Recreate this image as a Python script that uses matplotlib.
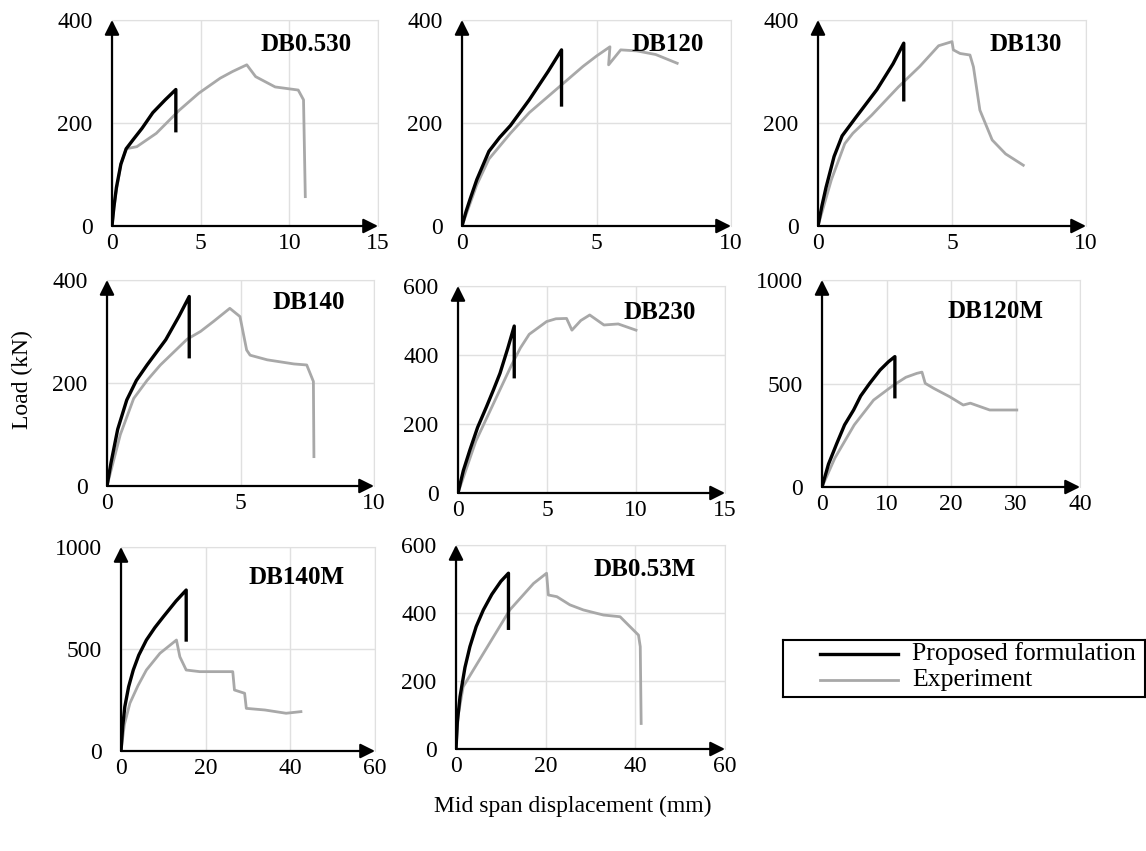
import numpy as np
import matplotlib
matplotlib.use('Agg')
import matplotlib.pyplot as plt

plt.rcParams['font.family'] = ['Liberation Serif', 'DejaVu Serif']

# Panel names, axis limits and ticks
names = ['DB0.530', 'DB120', 'DB130', 'DB140', 'DB230', 'DB120M', 'DB140M', 'DB0.53M']
x_max = [15, 10, 10, 10, 15, 40, 60, 60]
x_step = [5, 5, 5, 5, 5, 10, 20, 20]
y_max = [400, 400, 400, 400, 600, 1000, 1000, 600]
y_step = [200, 200, 200, 200, 200, 500, 500, 200]

# Proposed formulation (black) curves: displacement (mm), load (kN)
prop_x = [
    [0, 0.1, 0.25, 0.5, 0.8, 1.2, 1.7, 2.3, 3.0, 3.6, 3.6],
    [0, 0.15, 0.3, 0.55, 1.0, 1.4, 1.8, 2.5, 3.2, 3.7, 3.7],
    [0, 0.15, 0.3, 0.6, 0.9, 1.4, 2.2, 2.8, 3.2, 3.2],
    [0, 0.15, 0.4, 0.74, 1.1, 1.5, 2.2, 2.7, 3.08, 3.08],
    [0, 0.3, 0.67, 1.1, 1.6, 2.0, 2.36, 2.8, 3.16, 3.16],
    [0, 0.5, 1.0, 2.3, 3.5, 4.9, 6.0, 7.4, 9.0, 10.3, 11.3, 11.3],
    [0, 0.4, 0.9, 1.8, 2.9, 4.2, 6.0, 8.0, 10.0, 13.0, 15.4, 15.4],
    [0, 0.3, 0.9, 2.0, 3.1, 4.5, 6.1, 8.0, 10.0, 11.7, 11.7],
]
prop_y = [
    [0, 35, 75, 120, 150, 168, 190, 220, 245, 265, 185],
    [0, 28, 52, 90, 145, 172, 195, 245, 300, 342, 235],
    [0, 40, 75, 135, 175, 210, 265, 315, 355, 245],
    [0, 45, 110, 167, 205, 235, 284, 330, 368, 251],
    [0, 65, 125, 190, 250, 300, 347, 420, 484, 337],
    [0, 55, 110, 211, 300, 372, 440, 501, 565, 605, 630, 436],
    [0, 120, 217, 315, 397, 470, 544, 605, 658, 735, 789, 544],
    [0, 80, 154, 240, 301, 360, 409, 455, 493, 517, 355],
]

# Experiment (grey) curves
exp_x = [
    [0, 0.2, 0.5, 0.8, 1.4, 2.5, 3.8, 4.9, 6.1, 6.8, 7.6, 8.1, 9.2, 10.5, 10.8, 10.9],
    [0, 0.55, 1.0, 1.8, 2.5, 3.5, 4.5, 5.0, 5.5, 5.45, 5.9, 6.5, 7.2, 8.0],
    [0, 0.5, 1.0, 1.3, 2.0, 3.0, 3.8, 4.5, 5.0, 5.05, 5.3, 5.67, 5.8, 6.04, 6.5, 7.0, 7.66],
    [0, 0.5, 1.0, 1.5, 2.0, 2.5, 3.0, 3.5, 4.0, 4.6, 4.98, 5.23, 5.36, 6.0, 7.0, 7.48, 7.73, 7.75],
    [0, 1.0, 2.0, 3.0, 3.5, 4.0, 4.98, 5.5, 6.1, 6.4, 6.9, 7.4, 8.2, 9.0, 10.0],
    [0, 2.0, 5.0, 8.0, 11.0, 13.0, 14.7, 15.5, 16.0, 17.3, 19.8, 21.9, 23.0, 26.0, 28.0, 30.2],
    [0, 0.8, 2.1, 4.0, 6.0, 9.2, 13.1, 13.9, 15.4, 18.6, 26.4, 26.8, 29.2, 29.6, 34.0, 39.0, 42.5],
    [0, 0.5, 1.6, 6.1, 12.0, 17.3, 20.2, 20.6, 22.5, 25.4, 28.4, 32.9, 36.6, 38.8, 40.7, 41.1, 41.3],
]
exp_y = [
    [0, 60, 120, 150, 154, 180, 225, 258, 287, 300, 313, 290, 270, 264, 245, 57],
    [0, 80, 130, 180, 220, 265, 310, 330, 348, 313, 342, 340, 333, 316],
    [0, 90, 160, 180, 215, 270, 310, 350, 358, 342, 335, 332, 309, 225, 167, 140, 118],
    [0, 100, 170, 205, 235, 260, 285, 300, 320, 345, 329, 264, 254, 245, 237, 235, 203, 57],
    [0, 150, 260, 370, 420, 460, 497, 505, 506, 472, 500, 516, 487, 490, 472],
    [0, 140, 300, 420, 490, 530, 549, 555, 501, 477, 436, 396, 405, 372, 372, 372],
    [0, 130, 234, 320, 397, 479, 544, 462, 397, 389, 389, 299, 283, 209, 201, 185, 193],
    [0, 100, 183, 281, 409, 487, 517, 453, 448, 424, 409, 394, 389, 360, 335, 301, 75],
]

# axes boxes in pixels: x0, x1, y_bottom, y_top
boxes = [(112, 378, 226, 20), (462, 731, 226, 20), (818, 1086, 226, 20),
         (107, 374, 486, 280), (458, 725, 493, 286), (822, 1080, 487, 280),
         (121, 375, 751, 547), (456, 725, 749, 545)]
title_pos = [(0.90, 0.88), (0.90, 0.88), (0.91, 0.88), (0.89, 0.89),
             (0.89, 0.87), (0.86, 0.85), (0.88, 0.85), (0.89, 0.88)]

W, H = 1146, 851
fig = plt.figure(figsize=(W / 100, H / 100), dpi=100)

for i in range(8):
    x0, x1, yb, yt = boxes[i]
    ax = fig.add_axes([x0 / W, 1 - yb / H, (x1 - x0) / W, (yb - yt) / H])
    ax.plot(exp_x[i], exp_y[i], color='#a8a8a8', lw=2, zorder=3)
    ax.plot(prop_x[i], prop_y[i], color='black', lw=2.4, zorder=4)
    ax.set_xlim(0, x_max[i])
    ax.set_ylim(0, y_max[i])
    ax.set_xticks(np.arange(0, x_max[i] + 1, x_step[i]))
    ax.set_yticks(np.arange(0, y_max[i] + 1, y_step[i]))
    ax.tick_params(length=0, labelsize=17, pad=5)
    ax.tick_params(axis='y', pad=14)
    ax.grid(True, color='#e0e0e0', lw=1)
    for s in ['top', 'right']:
        ax.spines[s].set_color('#e0e0e0')
    for s in ['left', 'bottom']:
        ax.spines[s].set_visible(False)
    ax.annotate('', xy=(1.0, 0), xytext=(0, 0), xycoords='axes fraction',
                arrowprops=dict(arrowstyle='-|>', lw=1.6, color='black', mutation_scale=22,
                                shrinkA=0, shrinkB=0), zorder=5)
    ax.annotate('', xy=(0, 1.0), xytext=(0, 0), xycoords='axes fraction',
                arrowprops=dict(arrowstyle='-|>', lw=1.6, color='black', mutation_scale=22,
                                shrinkA=0, shrinkB=0), zorder=5)
    tx, ty = title_pos[i]
    ax.text(tx, ty, names[i], transform=ax.transAxes, ha='right', va='center',
            fontsize=18, fontweight='bold')
    ax.set_facecolor('none')

# legend
lx0, lx1, ly0, ly1 = 783, 1145, 640, 697
lax = fig.add_axes([lx0 / W, 1 - ly1 / H, (lx1 - lx0) / W, (ly1 - ly0) / H])
lax.set_xlim(lx0, lx1)
lax.set_ylim(ly1, ly0)
lax.set_xticks([])
lax.set_yticks([])
for s in lax.spines.values():
    s.set_linewidth(1.5)
lax.plot([820, 898], [654, 654], color='black', lw=2.4)
lax.plot([820, 898], [680, 680], color='#a8a8a8', lw=2)
lax.text(912, 654, 'Proposed formulation', fontsize=18.5, va='center', ha='left')
lax.text(912, 680, 'Experiment', fontsize=18.5, va='center', ha='left')

fig.text(22 / W, 1 - 380 / H, 'Load (kN)', rotation=90, ha='center', va='center', fontsize=17)
fig.text(573 / W, 1 - 806 / H, 'Mid span displacement (mm)', ha='center', va='center', fontsize=17)

fig.savefig('out.png', dpi=100)
